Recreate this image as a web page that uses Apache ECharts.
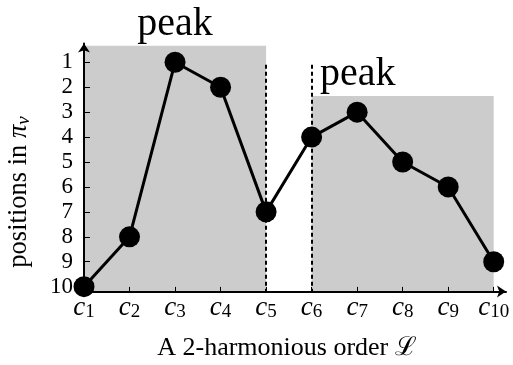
<!DOCTYPE html>
<html>
<head>
<meta charset="utf-8">
<script src="https://cdn.jsdelivr.net/npm/echarts@6/dist/echarts.min.js"></script>
<style>
  html, body { margin: 0; padding: 0; background: #ffffff; }
  #chart { width: 513px; height: 365px; }
</style>
</head>
<body>
<div id="chart"></div>
<script>
// Candidates c1..c10 along a 2-harmonious order, and each one's position in pi_v
const candidateIndex = [1, 2, 3, 4, 5, 6, 7, 8, 9, 10];
const candidateSubscripts = ['1', '2', '3', '4', '5', '6', '7', '8', '9', '10'];
const positions = [10, 8, 1, 2, 7, 4, 3, 5, 6, 9];
const positionTicks = [1, 2, 3, 4, 5, 6, 7, 8, 9, 10];

// The two peaks: first and last candidate of each, and how high each shaded block reaches
const peakStart = [1, 6];
const peakEnd = [5, 10];
const peakTop = [0.34, 2.35];
const peakText = ['peak', 'peak'];

// Dashed separators between the peaks
const separatorAt = [5, 6];
const separatorTop = [1.1, 1.1];

const Y_MIN = 0.25, Y_MAX = 10.19;
const X_MIN = 1, X_MAX = 10.27;
const SERIF = '"Liberation Serif", "DejaVu Serif", serif';

const chart = echarts.init(document.getElementById('chart'), null, { renderer: 'canvas' });

const points = candidateIndex.map((c, i) => [c, positions[i]]);

const areaData = peakStart.map((s, i) => [
  {
    coord: [s, peakTop[i]],
    label: i === 0
      ? { show: true, position: 'top', distance: 1 }
      : { show: true, position: 'top', distance: 1, offset: [-45, 0] }
  },
  { coord: [peakEnd[i], Y_MAX] }
]);
areaData.forEach((d, i) => { d[0].name = peakText[i]; });

const lineData = separatorAt.map((x, i) => [
  { coord: [x, separatorTop[i]] },
  { coord: [x, Y_MAX] }
]);

chart.setOption({
  animation: false,
  backgroundColor: '#ffffff',
  grid: { left: 84, right: 7, top: 43.6, bottom: 73.6, containLabel: false },
  xAxis: {
    type: 'value',
    min: X_MIN,
    max: X_MAX,
    position: 'bottom',
    z: 5,
    axisLine: {
      onZero: false,
      lineStyle: { color: '#000', width: 2 },
      symbol: ['none', 'arrow'],
      symbolSize: [9, 9]
    },
    axisTick: {
      show: true, inside: true, length: 4.5,
      customValues: candidateIndex,
      lineStyle: { color: '#000', width: 1 }
    },
    axisLabel: {
      show: true,
      customValues: candidateIndex,
      margin: 0,
      formatter: (v) => '{c|c}{s|' + candidateSubscripts[candidateIndex.indexOf(v)] + '}',
      rich: {
        c: { fontFamily: SERIF, fontStyle: 'italic', fontSize: 27, lineHeight: 30, color: '#000', verticalAlign: 'bottom' },
        s: { fontFamily: SERIF, fontSize: 19, lineHeight: 12, color: '#000', verticalAlign: 'bottom' }
      }
    },
    splitLine: { show: false }
  },
  yAxis: {
    type: 'value',
    inverse: true,
    min: Y_MIN,
    max: Y_MAX,
    z: 5,
    axisLine: {
      show: true,
      onZero: false,
      lineStyle: { color: '#000', width: 2 },
      symbol: ['none', 'arrow'],
      symbolSize: [9, 9]
    },
    axisTick: {
      show: true, inside: true, length: 6,
      customValues: positionTicks,
      lineStyle: { color: '#000', width: 1 }
    },
    axisLabel: {
      show: true,
      customValues: positionTicks,
      margin: 11,
      fontFamily: SERIF,
      fontSize: 23,
      color: '#000'
    },
    splitLine: { show: false }
  },
  graphic: [
    {
      type: 'text',
      x: 19, y: 192,
      rotation: Math.PI / 2,
      style: {
        text: '{n|positions in }{p|π}{v|v}',
        align: 'center', verticalAlign: 'middle',
        rich: {
          n: { fontFamily: SERIF, fontSize: 26.5, lineHeight: 28, fill: '#000', verticalAlign: 'bottom' },
          p: { fontFamily: SERIF, fontStyle: 'italic', fontSize: 26.5, lineHeight: 28, fill: '#000', verticalAlign: 'bottom' },
          v: { fontFamily: SERIF, fontStyle: 'italic', fontSize: 19, lineHeight: 14, fill: '#000', verticalAlign: 'bottom' }
        }
      }
    },
    {
      type: 'text',
      x: 287, y: 348,
      style: {
        text: 'A 2-harmonious order ℒ',
        align: 'center', verticalAlign: 'middle',
        fontFamily: SERIF, fontSize: 26, fill: '#000'
      }
    }
  ],
  series: [
    {
      type: 'line',
      data: points,
      z: 3,
      symbol: 'circle',
      symbolSize: 21,
      itemStyle: { color: '#000' },
      lineStyle: { color: '#000', width: 3 },
      emphasis: { disabled: true },
      silent: true,
      markArea: {
        silent: true,
        itemStyle: { color: '#cccccc' },
        label: { fontFamily: SERIF, fontSize: 40, color: '#000' },
        emphasis: { disabled: true },
        data: areaData
      },
      markLine: {
        silent: true,
        symbol: ['none', 'none'],
        label: { show: false },
        lineStyle: { color: '#000', width: 2, type: [4, 3] },
        emphasis: { disabled: true },
        data: lineData
      }
    }
  ]
});
</script>
</body>
</html>
